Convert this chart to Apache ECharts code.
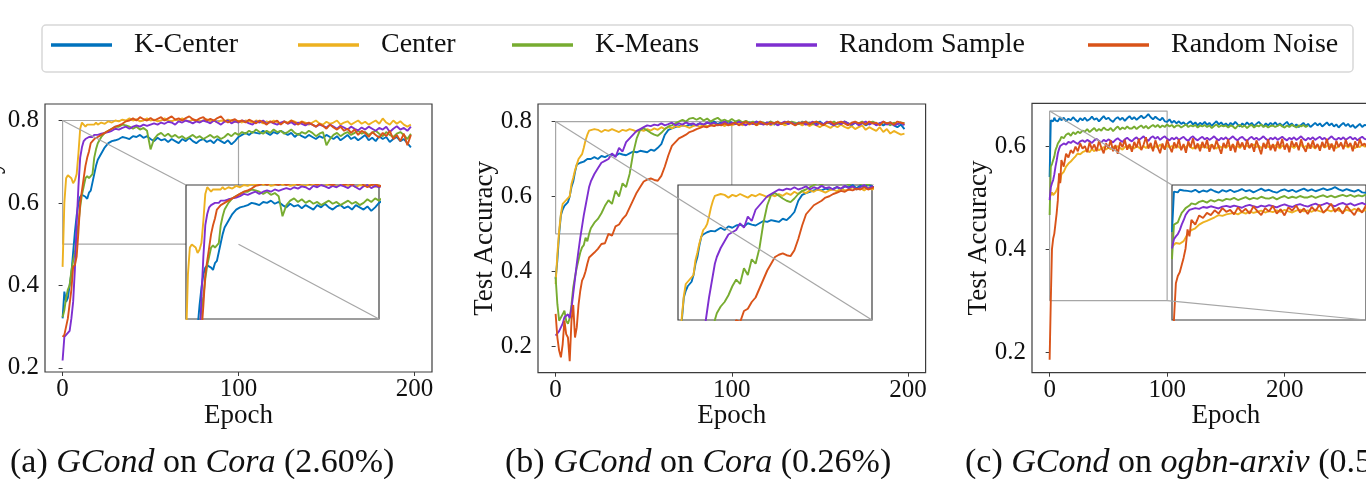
<!DOCTYPE html>
<html><head><meta charset="utf-8">
<script src="https://cdn.jsdelivr.net/npm/echarts@6/dist/echarts.min.js"></script>
<style>html,body{margin:0;padding:0;background:#fff}#c{width:1366px;height:479px}</style>
</head><body><div id="c"></div>
<script>
// ---------------- DATA ----------------
const seriesNames = ['K-Center', 'Center', 'K-Means', 'Random Sample', 'Random Noise'];
const seriesColors = ['#0072BD', '#EDB120', '#77AC30', '#7E2FD0', '#D95319'];

const xTicks = [0, 100, 200];
const yTicksAB = [0.2, 0.4, 0.6, 0.8];
const yTicksC = [0.2, 0.4, 0.6];

const captions = [
  '(a) {i|GCond} on {i|Cora} (2.60%)',
  '(b) {i|GCond} on {i|Cora} (0.26%)',
  '(c) {i|GCond} on {i|ogbn-arxiv} (0.50%)'
];

const zoomBoxAB = { x: [0, 100], y: [0.5, 0.8] };
const zoomBoxC = { x: [0, 100], y: [0.3, 0.668] };

const epochsAB = [0,1,2,3,4,5,6,7,8,9,10,11,12,13,14,15,16,17,18,19,
 20,22,24,26,28,30,32,34,36,38,40,42,44,46,48,50,52,54,56,58,60,62,64,66,68,70,72,74,76,78,
 80,82,84,86,88,90,92,94,96,98,100,102,104,106,108,110,112,114,116,118,120,122,124,126,128,130,132,134,136,138,
 140,142,144,146,148,150,152,154,156,158,160,162,164,166,168,170,172,174,176,178,180,182,184,186,188,190,192,194,196,198];

const epochsC = [0,1,2,3,4,5,6,7,8,9,
 10,12,14,16,18,20,22,24,26,28,30,32,34,36,38,40,42,44,46,48,50,52,54,56,58,60,62,64,66,68,
 70,72,74,76,78,80,82,84,86,88,90,92,94,96,98,100,102,104,106,108,110,112,114,116,118,120,122,124,126,128,
 130,132,134,136,138,140,142,144,146,148,150,152,154,156,158,160,162,164,166,168,170,172,174,176,178,180,182,184,186,188,
 190,192,194,196,198,200,202,204,206,208,210,212,214,216,218,220,222,224,226,228,230,232,234,236,238,240,242,244,246,248,
 250,252,254,256,258,260,262,264,266,268,270];

// (a) Cora 2.60%
const a_kcenter = [.32,.385,.36,.37,.40,.43,.48,.53,.57,.60,.615,.62,.62,.615,.61,.625,.63,.65,.67,.69,
 .705,.72,.735,.745,.75,.752,.755,.76,.758,.755,.762,.76,.765,.758,.762,.755,.75,.758,.752,.755,.748,.755,.75,.745,.755,.75,.758,.75,.745,.752,
 .755,.748,.752,.745,.755,.75,.745,.752,.742,.75,.76,.765,.77,.765,.772,.77,.768,.775,.77,.765,.772,.768,.775,.77,.765,.77,.76,.768,.762,.758,
 .765,.76,.755,.762,.758,.765,.76,.755,.762,.752,.758,.765,.755,.76,.752,.758,.765,.752,.758,.75,.762,.755,.76,.748,.755,.76,.75,.755,.745,.735];
const a_center = [.445,.60,.66,.667,.665,.66,.648,.655,.67,.72,.78,.795,.79,.785,.79,.788,.79,.792,.79,.795,
 .79,.795,.792,.798,.795,.80,.798,.802,.80,.805,.80,.803,.798,.80,.805,.80,.802,.798,.80,.805,.80,.798,.802,.80,.805,.80,.798,.802,.80,.797,
 .80,.803,.798,.80,.795,.80,.798,.802,.80,.796,.799,.795,.80,.798,.795,.80,.797,.793,.798,.795,.80,.796,.792,.798,.795,.80,.797,.793,.798,.795,
 .79,.795,.80,.793,.79,.797,.792,.795,.80,.79,.795,.798,.79,.795,.80,.792,.797,.79,.795,.80,.792,.805,.795,.79,.80,.792,.798,.79,.785,.79];
const a_kmeans = [.323,.34,.37,.39,.40,.435,.46,.48,.52,.55,.59,.62,.64,.66,.665,.66,.665,.67,.71,.73,
 .745,.76,.77,.775,.78,.785,.785,.79,.788,.785,.78,.785,.778,.782,.775,.73,.755,.765,.77,.762,.768,.76,.765,.758,.762,.755,.76,.765,.758,.762,
 .755,.76,.765,.758,.762,.755,.76,.768,.762,.77,.765,.772,.768,.775,.77,.778,.772,.768,.775,.77,.778,.772,.775,.768,.772,.778,.77,.765,.772,.768,
 .775,.77,.762,.768,.772,.74,.755,.765,.77,.762,.768,.772,.765,.77,.775,.768,.772,.765,.77,.775,.768,.762,.772,.765,.76,.768,.772,.765,.755,.768];
const a_randsample = [.218,.275,.28,.285,.29,.32,.36,.44,.55,.64,.71,.735,.75,.755,.758,.76,.762,.76,.765,.763,
 .765,.768,.77,.772,.775,.78,.778,.782,.785,.78,.785,.788,.785,.79,.787,.79,.793,.79,.795,.792,.797,.795,.79,.798,.795,.80,.797,.793,.798,.795,
 .80,.797,.793,.80,.795,.79,.797,.80,.793,.798,.795,.80,.797,.793,.79,.798,.795,.80,.792,.797,.793,.79,.795,.798,.792,.796,.79,.795,.792,.788,
 .793,.79,.785,.79,.787,.783,.79,.785,.78,.787,.783,.778,.785,.78,.776,.783,.778,.785,.78,.775,.782,.778,.785,.772,.78,.786,.778,.782,.775,.785];
const a_randnoise = [.275,.28,.30,.32,.32,.39,.445,.45,.47,.53,.60,.63,.66,.69,.71,.725,.745,.75,.755,.758,
 .76,.765,.77,.775,.78,.785,.788,.792,.798,.80,.805,.80,.808,.803,.80,.806,.80,.804,.808,.80,.805,.81,.802,.805,.80,.806,.81,.803,.80,.805,
 .808,.80,.804,.80,.806,.81,.80,.795,.80,.803,.797,.80,.795,.802,.798,.793,.80,.796,.79,.798,.795,.80,.79,.797,.793,.80,.795,.79,.797,.792,
 .795,.79,.785,.792,.787,.78,.79,.783,.778,.785,.775,.78,.77,.778,.765,.775,.77,.76,.772,.765,.758,.77,.762,.775,.755,.765,.75,.768,.74,.765];

// (b) Cora 0.26%
const b_kcenter = [.38,.43,.50,.55,.565,.575,.58,.585,.60,.625,.64,.665,.685,.69,.69,.695,.693,.698,.70,.697,
 .70,.705,.70,.708,.705,.71,.712,.708,.715,.712,.71,.715,.72,.718,.722,.72,.718,.725,.722,.73,.74,.765,.778,.782,.785,.788,.79,.788,.792,.79,
 .792,.795,.79,.797,.795,.80,.793,.798,.795,.80,.797,.793,.80,.796,.792,.798,.795,.80,.793,.797,.795,.80,.792,.798,.795,.793,.80,.796,.792,.798,
 .795,.80,.793,.797,.795,.80,.792,.798,.795,.79,.797,.793,.80,.795,.79,.797,.793,.798,.79,.795,.798,.792,.796,.79,.795,.798,.79,.785,.792,.78];
const b_center = [.366,.446,.508,.553,.58,.585,.59,.59,.60,.633,.65,.67,.685,.70,.705,.713,.73,.75,.765,.776,
 .775,.78,.778,.772,.778,.775,.78,.776,.772,.778,.775,.78,.777,.773,.778,.775,.78,.776,.782,.778,.785,.78,.786,.782,.788,.785,.79,.787,.783,.788,
 .79,.786,.792,.788,.79,.795,.79,.793,.788,.795,.79,.793,.797,.79,.795,.792,.797,.79,.795,.793,.798,.79,.795,.792,.797,.79,.794,.798,.79,.795,
 .79,.795,.788,.793,.79,.785,.792,.788,.783,.79,.785,.792,.786,.782,.788,.78,.785,.79,.778,.785,.78,.775,.785,.772,.78,.768,.775,.77,.765,.768];
const b_kmeans = [.384,.312,.268,.263,.285,.295,.268,.26,.275,.31,.357,.385,.41,.43,.45,.464,.47,.49,.48,.50,
 .515,.53,.54,.555,.575,.59,.58,.615,.60,.635,.625,.66,.715,.755,.778,.782,.776,.77,.765,.762,.77,.78,.787,.79,.795,.80,.805,.80,.808,.81,
 .805,.81,.803,.808,.80,.806,.81,.802,.805,.80,.807,.80,.804,.798,.802,.797,.80,.795,.80,.797,.793,.80,.796,.80,.793,.798,.795,.80,.797,.793,
 .80,.795,.798,.793,.80,.796,.792,.798,.795,.80,.793,.797,.80,.795,.792,.798,.795,.80,.793,.797,.80,.795,.792,.798,.795,.79,.797,.793,.798,.795];
const b_randsample = [.228,.23,.24,.25,.26,.277,.28,.285,.275,.30,.34,.38,.42,.455,.49,.52,.55,.575,.60,.625,
 .64,.66,.675,.69,.695,.70,.715,.705,.73,.72,.745,.755,.765,.775,.78,.785,.79,.788,.792,.79,.795,.79,.793,.797,.79,.795,.792,.798,.793,.795,
 .79,.796,.792,.798,.793,.797,.79,.795,.80,.792,.797,.793,.80,.795,.79,.797,.793,.80,.795,.792,.798,.793,.797,.79,.795,.80,.793,.797,.792,.795,
 .798,.792,.795,.80,.79,.797,.793,.80,.795,.79,.797,.793,.80,.795,.792,.798,.79,.795,.80,.792,.797,.79,.795,.80,.792,.797,.79,.793,.797,.79];
const b_randnoise = [.286,.223,.188,.17,.205,.268,.232,.223,.16,.268,.31,.223,.25,.31,.348,.375,.385,.40,.42,.437,
 .437,.45,.46,.473,.475,.50,.495,.52,.525,.54,.55,.57,.59,.61,.625,.64,.645,.648,.644,.642,.655,.68,.71,.735,.745,.755,.76,.765,.772,.775,
 .78,.783,.787,.785,.79,.788,.792,.79,.795,.79,.793,.797,.79,.795,.80,.793,.797,.79,.80,.795,.792,.798,.795,.80,.793,.797,.80,.795,.79,.797,
 .795,.80,.792,.797,.80,.795,.79,.797,.80,.793,.797,.80,.795,.79,.797,.80,.795,.798,.792,.80,.795,.797,.79,.80,.795,.798,.792,.80,.797,.795];

// (c) ogbn-arxiv
const c_kcenter = [.54,.65,.652,.648,.655,.65,.653,.648,.652,.656,
 .65,.655,.648,.653,.65,.656,.651,.647,.654,.65,
 .655,.649,.652,.657,.651,.654,.648,.653,.658,.652,
 .655,.65,.647,.653,.656,.651,.655,.649,.654,.658,
 .652,.656,.651,.655,.659,.654,.657,.662,.656,.652,
 .657,.653,.65,.655,.648,.647,.652,.645,.649,.644,
 .648,.643,.646,.641,.645,.648,.642,.646,.64,.645,
 .642,.647,.641,.645,.639,.644,.648,.642,.646,.64,
 .644,.639,.645,.641,.647,.642,.638,.644,.64,.646,
 .641,.645,.639,.643,.647,.642,.638,.644,.64,.645,
 .641,.646,.64,.644,.639,.643,.647,.64,.644,.638,
 .642,.637,.641,.645,.639,.643,.637,.641,.645,.64,
 .644,.638,.642,.646,.64,.644,.638,.642,.636,.641,
 .645,.639,.643,.637,.641,.635,.639,.643,.637,.641,.64];
const c_center = [.50,.505,.51,.505,.508,.51,.515,.52,.534,.53,
 .545,.55,.56,.566,.57,.575,.58,.586,.584,.588,
 .59,.592,.588,.594,.59,.596,.592,.595,.598,.593,
 .597,.594,.599,.595,.60,.596,.593,.598,.601,.596,
 .599,.595,.601,.597,.594,.60,.596,.602,.598,.595,
 .60,.597,.603,.598,.595,.601,.597,.60,.596,.602,
 .598,.595,.601,.597,.603,.598,.595,.60,.597,.602,
 .598,.601,.596,.60,.603,.598,.595,.601,.597,.60,
 .596,.601,.598,.603,.597,.60,.596,.602,.598,.601,
 .597,.60,.603,.598,.601,.596,.60,.603,.598,.601,
 .597,.602,.599,.595,.601,.598,.603,.597,.60,.596,
 .601,.598,.603,.597,.60,.596,.602,.599,.595,.601,
 .598,.602,.597,.60,.604,.598,.601,.596,.60,.603,
 .598,.601,.597,.602,.599,.596,.601,.598,.603,.599,.60];
const c_kmeans = [.466,.56,.565,.566,.58,.592,.598,.605,.608,.612,
 .618,.615,.622,.625,.62,.627,.623,.628,.625,.63,
 .628,.633,.627,.631,.635,.629,.633,.63,.636,.632,
 .631,.635,.629,.634,.638,.632,.636,.633,.638,.634,
 .634,.638,.633,.637,.64,.635,.639,.634,.638,.641,
 .637,.641,.636,.64,.637,.642,.638,.641,.636,.64,
 .64,.636,.639,.642,.637,.64,.638,.641,.636,.64,
 .638,.641,.637,.64,.635,.639,.642,.637,.64,.638,
 .64,.636,.64,.638,.634,.639,.641,.637,.64,.635,
 .639,.641,.636,.64,.638,.642,.637,.64,.636,.639,
 .64,.637,.639,.642,.638,.636,.64,.637,.641,.639,
 .636,.64,.638,.641,.637,.64];
const c_randsample = [.495,.52,.528,.534,.545,.56,.572,.586,.594,.60,
 .602,.605,.603,.608,.606,.61,.607,.604,.609,.611,
 .608,.612,.609,.606,.611,.614,.61,.607,.612,.609,
 .613,.61,.607,.612,.615,.611,.608,.613,.616,.612,
 .609,.614,.617,.612,.615,.619,.613,.61,.616,.619,
 .614,.618,.612,.616,.619,.614,.611,.616,.613,.617,
 .612,.615,.618,.613,.61,.616,.619,.614,.611,.615,
 .618,.613,.616,.612,.615,.619,.614,.611,.616,.613,
 .617,.612,.615,.619,.614,.611,.616,.618,.613,.61,
 .615,.618,.613,.616,.612,.615,.619,.614,.611,.616,
 .613,.617,.612,.615,.618,.614,.611,.616,.613,.617,
 .612,.615,.619,.614,.611,.616,.613,.617,.612,.615,
 .618,.613,.616,.611,.615,.619,.614,.612,.616,.613,
 .617,.612,.615,.618,.613,.616,.611,.615,.618,.614,.613];
const c_randnoise = [.185,.30,.40,.42,.43,.45,.47,.495,.547,.528,
 .573,.56,.585,.578,.592,.586,.599,.59,.605,.595,
 .60,.588,.607,.594,.603,.59,.61,.597,.586,.605,
 .596,.611,.59,.602,.585,.607,.598,.612,.593,.604,
 .589,.608,.597,.614,.592,.603,.617,.595,.606,.59,
 .611,.598,.586,.605,.593,.612,.599,.588,.607,.596,
 .613,.592,.604,.587,.609,.597,.615,.594,.605,.59,
 .608,.596,.612,.589,.603,.594,.611,.598,.585,.606,
 .597,.613,.591,.604,.588,.61,.598,.607,.593,.612,
 .596,.605,.589,.611,.598,.584,.606,.595,.613,.592,
 .604,.59,.609,.597,.614,.593,.605,.588,.61,.599,
 .607,.592,.613,.598,.589,.606,.595,.611,.596,.604,
 .591,.608,.597,.614,.593,.605,.59,.61,.598,.607,
 .594,.612,.599,.606,.59,.609,.597,.613,.601,.605,.598];

// ---------------- LAYOUT ----------------
const FONT = '"Liberation Serif","Times New Roman",Times,serif';
const TXT = '#111';
const SPINE = '#3c3c3c';
const BOXGREY = '#a6a6a6';

const panels = [
  { grid: {left: 45, top: 104, width: 387, height: 268}, x: [-10, 210], y: [0.19, 0.84], yTicks: yTicksAB,
    epochs: epochsAB, data: [a_kcenter, a_center, a_kmeans, a_randsample, a_randnoise],
    inset: {left: 186, top: 185, width: 193, height: 134}, zoom: zoomBoxAB,
    connect: [['tl','tl'], ['br','br']], capLeft: 10 },
  { grid: {left: 538, top: 104, width: 387.6, height: 268.7}, x: [-10, 210], y: [0.129, 0.847], yTicks: yTicksAB,
    epochs: epochsAB, data: [b_kcenter, b_center, b_kmeans, b_randsample, b_randnoise],
    inset: {left: 678, top: 185, width: 194, height: 135}, zoom: zoomBoxAB,
    connect: [['tl','br']], capLeft: 505 },
  { grid: {left: 1032, top: 103.3, width: 387.75, height: 269.4}, x: [-15, 315], y: [0.16, 0.683], yTicks: yTicksC,
    epochs: epochsC, data: [c_kcenter, c_center, c_kmeans, c_randsample, c_randnoise],
    inset: {left: 1172, top: 185, width: 194, height: 135}, zoom: zoomBoxC,
    connect: [['tl','tl'], ['br','br']], capLeft: 965 }
];
const legendLefts = [51, 298, 512, 756, 1088];

function pairs(epochs, vals) {
  const out = [];
  for (let i = 0; i < vals.length; i++) out.push([epochs[i], vals[i]]);
  return out;
}
function corners(z) {
  return { tl: [z.x[0], z.y[1]], tr: [z.x[1], z.y[1]], bl: [z.x[0], z.y[0]], br: [z.x[1], z.y[0]] };
}

const grid = [], xAxis = [], yAxis = [], series = [], title = [];
panels.forEach((p, i) => {
  grid.push(Object.assign({ show: true, backgroundColor: '#fff', borderColor: SPINE, borderWidth: 1.2,
    z: 0, containLabel: false, outerBoundsMode: 'none' }, p.grid));
  xAxis.push({ type: 'value', gridIndex: i, min: p.x[0], max: p.x[1],
    axisLine: {show: false}, splitLine: {show: false},
    axisTick: {show: true, inside: false, length: 4, lineStyle: {color: SPINE}, customValues: xTicks},
    axisLabel: {customValues: xTicks, fontFamily: FONT, fontSize: 25, color: TXT, margin: 5},
    name: 'Epoch', nameLocation: 'middle', nameGap: 30, nameMoveOverlap: false,
    nameTextStyle: {fontFamily: FONT, fontSize: 27, color: TXT} });
  yAxis.push({ type: 'value', gridIndex: i, min: p.y[0], max: p.y[1],
    axisLine: {show: false}, splitLine: {show: false},
    axisTick: {show: true, inside: false, length: 4, lineStyle: {color: SPINE}, customValues: p.yTicks},
    axisLabel: {customValues: p.yTicks, fontFamily: FONT, fontSize: 25, color: TXT, margin: 6,
      formatter: v => Number(v).toFixed(1)},
    name: 'Test Accuracy', nameLocation: 'middle', nameRotate: 90, nameGap: 40, nameMoveOverlap: false,
    nameTextStyle: {fontFamily: FONT, fontSize: 27, color: TXT} });
  title.push({ text: captions[i], left: p.capLeft, top: 446, padding: 0,
    textStyle: { fontFamily: FONT, fontSize: 34, fontWeight: 'normal', color: TXT,
      rich: { i: { fontFamily: FONT, fontSize: 34, fontStyle: 'italic', color: TXT } } } });
});
panels.forEach((p, i) => {
  grid.push(Object.assign({ show: true, backgroundColor: '#fff', borderColor: SPINE, borderWidth: 1.2,
    z: 5, containLabel: false, outerBoundsMode: 'none' }, p.inset));
  xAxis.push({ type: 'value', gridIndex: 3 + i, min: p.zoom.x[0], max: p.zoom.x[1], show: false, z: 5 });
  yAxis.push({ type: 'value', gridIndex: 3 + i, min: p.zoom.y[0], max: p.zoom.y[1], show: false, z: 5 });
});

panels.forEach((p, i) => {
  const c = corners(p.zoom);
  series.push({ type: 'line', xAxisIndex: i, yAxisIndex: i, silent: true, symbol: 'none',
    data: [c.tl, c.tr, c.br, c.bl, c.tl], lineStyle: {color: BOXGREY, width: 1.2}, z: 1 });
  seriesNames.forEach((name, k) => {
    const d = pairs(p.epochs, p.data[k]);
    const base = { type: 'line', name, symbol: 'none', showSymbol: false, clip: true,
      data: d, lineStyle: {color: seriesColors[k], width: 1.9}, itemStyle: {color: seriesColors[k]} };
    series.push(Object.assign({}, base, { xAxisIndex: i, yAxisIndex: i, z: 2 }));
    series.push(Object.assign({}, base, { xAxisIndex: 3 + i, yAxisIndex: 3 + i, z: 6 }));
  });
});

const legend = seriesNames.map((name, k) => ({
  data: [name], left: legendLefts[k], top: 30, padding: 0, orient: 'horizontal',
  icon: 'rect', itemWidth: 61, itemHeight: 3.5, selectedMode: false,
  textStyle: { fontFamily: FONT, fontSize: 28, color: TXT, lineHeight: 30, padding: [0, 0, 0, 17] }
}));

const chart = echarts.init(document.getElementById('c'), null, {renderer: 'canvas'});
chart.setOption({
  animation: false, backgroundColor: '#fff',
  title, grid, xAxis, yAxis, series, legend
});

const gfx = [{ type: 'rect', shape: {x: 42, y: 25, width: 1311, height: 47, r: 4},
  style: {fill: 'none', stroke: '#d8d8d8', lineWidth: 1.5}, z: 0, silent: true }];
panels.forEach((p, i) => {
  const c = corners(p.zoom);
  p.connect.forEach(([a, b]) => {
    const P = chart.convertToPixel({xAxisIndex: i, yAxisIndex: i}, c[a]);
    const Q = chart.convertToPixel({xAxisIndex: 3 + i, yAxisIndex: 3 + i}, c[b]);
    gfx.push({ type: 'line', shape: {x1: P[0], y1: P[1], x2: Q[0], y2: Q[1]},
      style: {stroke: BOXGREY, lineWidth: 1.2}, z: 10, silent: true });
  });
});
chart.setOption({ graphic: gfx });
</script></body></html>
